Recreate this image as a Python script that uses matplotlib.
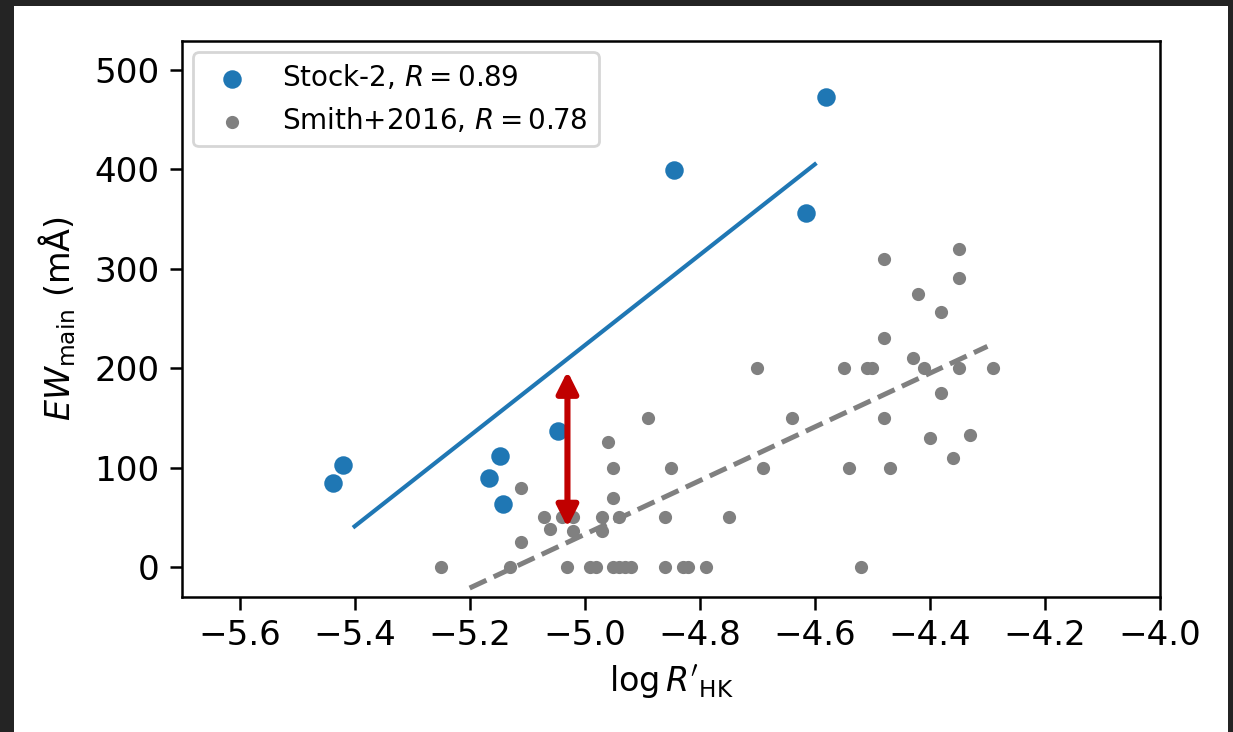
import numpy as np
import matplotlib
matplotlib.use("Agg")
import matplotlib.pyplot as plt
from matplotlib.patches import Rectangle

# Stock-2 sample
stock_x = [-5.437, -5.421, -5.167, -5.147, -5.142, -5.046, -4.845, -4.615, -4.580]
stock_y = [85, 103, 90, 112, 64, 137, 399, 356, 473]

# Smith+2016 sample
smith_x = [-5.25, -5.13, -5.11, -5.11, -5.07, -5.06, -5.04, -5.02, -5.02, -5.03,
           -4.99, -4.98, -4.97, -4.97, -4.96, -4.95, -4.95, -4.94,
           -4.95, -4.94, -4.93, -4.92, -4.89, -4.86, -4.86, -4.85,
           -4.83, -4.82, -4.79, -4.75, -4.70, -4.69, -4.64, -4.55, -4.54,
           -4.52, -4.51, -4.50, -4.48, -4.48, -4.48, -4.47, -4.43, -4.42,
           -4.41, -4.40, -4.38, -4.38, -4.36, -4.35, -4.35, -4.35, -4.33, -4.29]
smith_y = [0, 0, 80, 25, 50, 38, 50, 50, 36, 0,
           0, 0, 50, 36, 126, 100, 70, 50,
           0, 0, 0, 0, 150, 50, 0, 100,
           0, 0, 0, 50, 200, 100, 150, 200, 100,
           0, 200, 200, 310, 230, 150, 100, 210, 275,
           200, 130, 257, 175, 110, 320, 291, 200, 133, 200]

# Linear fits (endpoints)
stock_fit_x = [-5.4, -4.6]
stock_fit_y = [41, 405]
smith_fit_x = [-5.2, -4.3]
smith_fit_y = [-21, 222]

# Offset arrow
arrow_x = -5.03
arrow_y = [40, 197]

labels = [r'Stock-2, $R=0.89$', r'Smith+2016, $R=0.78$']

W, H, DPI = 1233, 732, 200
fig = plt.figure(figsize=(W / DPI, H / DPI), dpi=DPI, facecolor='#242424')
bg = Rectangle((14 / W, 0), (1228 - 14) / W, 1 - 6 / H,
               transform=fig.transFigure, facecolor='white',
               edgecolor='none', zorder=-100)
fig.add_artist(bg)
ax = fig.add_axes([182 / W, 1 - 597 / H, (1160 - 182) / W, (597 - 41) / H])

ax.scatter(stock_x, stock_y, s=32, color='#1f77b4', label=labels[0], zorder=3)
ax.scatter(smith_x, smith_y, s=14, color='gray', label=labels[1], zorder=2)
ax.plot(stock_fit_x, stock_fit_y, color='#1f77b4', lw=1.5, zorder=2)
ax.plot(smith_fit_x, smith_fit_y, color='gray', lw=1.8, ls='--', zorder=2)

ax.annotate('', xy=(arrow_x, arrow_y[1]), xytext=(arrow_x, arrow_y[0]),
            arrowprops=dict(arrowstyle='<|-|>', color='#c00000', lw=2.2,
                            mutation_scale=16, shrinkA=0, shrinkB=0), zorder=4)

ax.set_xlim(-5.7, -4.0)
ax.set_ylim(-30, 529)
ax.set_xticks(np.arange(-5.6, -3.99, 0.2))
ax.set_yticks([0, 100, 200, 300, 400, 500])
ax.tick_params(labelsize=12.3, length=4.5, width=0.9)
for s in ax.spines.values():
    s.set_linewidth(0.9)
ax.set_xlabel(r"$\log R'_\mathrm{HK}$", fontsize=12)
ax.set_ylabel(r'$EW_\mathrm{main}$ (mÅ)', fontsize=12, labelpad=6)
ax.legend(loc='upper left', fontsize=10, borderaxespad=0.4)

fig.savefig('out.png', dpi=DPI, facecolor=fig.get_facecolor())
